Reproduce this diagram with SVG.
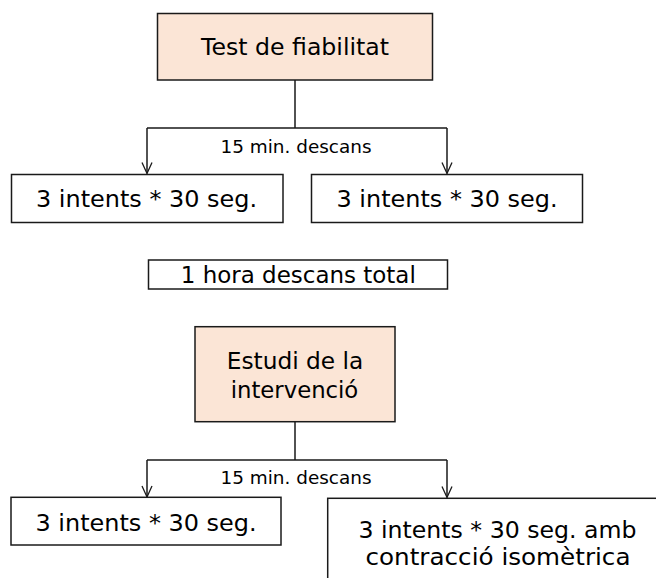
<svg xmlns="http://www.w3.org/2000/svg" width="656" height="578" viewBox="0 0 656 578">
<defs>
<marker id="arr" markerWidth="14" markerHeight="14" refX="12" refY="6" orient="auto" markerUnits="userSpaceOnUse" viewBox="0 0 14 12">
<path d="M1 1 L12 6 L1 11" fill="none" stroke="#1a1a1a" stroke-width="1.3"/>
</marker>
<style>
.box{fill:#ffffff;stroke:#1a1a1a;stroke-width:1.5}
.hl{fill:#fbe5d6}
.t{font-family:"DejaVu Sans",Verdana,sans-serif;font-size:23px;fill:#000;text-anchor:middle}
.lbl{font-family:"DejaVu Sans",Verdana,sans-serif;font-size:17.5px;fill:#000;text-anchor:middle}
.ln{fill:none;stroke:#1a1a1a;stroke-width:1.5}
</style>
</defs>
<rect width="656" height="578" fill="#ffffff"/>
<g id="connectors">
<path class="ln" d="M295 80 V128 M147 128 H447"/>
<path class="ln" d="M147 128 V173.5" marker-end="url(#arr)"/>
<path class="ln" d="M447 128 V173.5" marker-end="url(#arr)"/>
<text class="lbl" x="296" y="152.7" textLength="151" lengthAdjust="spacingAndGlyphs">15 min. descans</text>
<path class="ln" d="M295 422 V460 M147 460 H447"/>
<path class="ln" d="M147 460 V497" marker-end="url(#arr)"/>
<path class="ln" d="M447 460 V497.5" marker-end="url(#arr)"/>
<text class="lbl" x="296" y="484.3" textLength="151" lengthAdjust="spacingAndGlyphs">15 min. descans</text>
</g>
<g id="test">
<rect class="box hl" x="157.5" y="13.5" width="275" height="66.5"/>
<text class="t" x="295" y="55" textLength="188" lengthAdjust="spacingAndGlyphs">Test de fiabilitat</text>
</g>
<g id="test-a">
<rect class="box" x="11.5" y="174.5" width="271.5" height="48"/>
<text class="t" x="146.5" y="207" textLength="221" lengthAdjust="spacingAndGlyphs">3 intents * 30 seg.</text>
</g>
<g id="test-b">
<rect class="box" x="311.5" y="174.5" width="271" height="48"/>
<text class="t" x="447" y="207" textLength="221" lengthAdjust="spacingAndGlyphs">3 intents * 30 seg.</text>
</g>
<g id="pausa">
<rect class="box" x="148.5" y="260" width="299" height="29"/>
<text class="t" x="298.3" y="283.3" textLength="235" lengthAdjust="spacingAndGlyphs">1 hora descans total</text>
</g>
<g id="estudi">
<rect class="box hl" x="195" y="326.7" width="200" height="95"/>
<text class="t" x="295" y="369.3" textLength="136.6" lengthAdjust="spacingAndGlyphs">Estudi de la</text>
<text class="t" x="294.5" y="397.7" textLength="127.6" lengthAdjust="spacingAndGlyphs">intervenció</text>
</g>
<g id="estudi-a">
<rect class="box" x="11" y="497.3" width="270" height="47.7"/>
<text class="t" x="146" y="530.7" textLength="221" lengthAdjust="spacingAndGlyphs">3 intents * 30 seg.</text>
</g>
<g id="estudi-b">
<rect class="box" x="327.7" y="498.3" width="340" height="100"/>
<text class="t" x="497.5" y="537.7" textLength="278" lengthAdjust="spacingAndGlyphs">3 intents * 30 seg. amb</text>
<text class="t" x="498" y="565" textLength="265" lengthAdjust="spacingAndGlyphs">contracció isomètrica</text>
</g>
</svg>
